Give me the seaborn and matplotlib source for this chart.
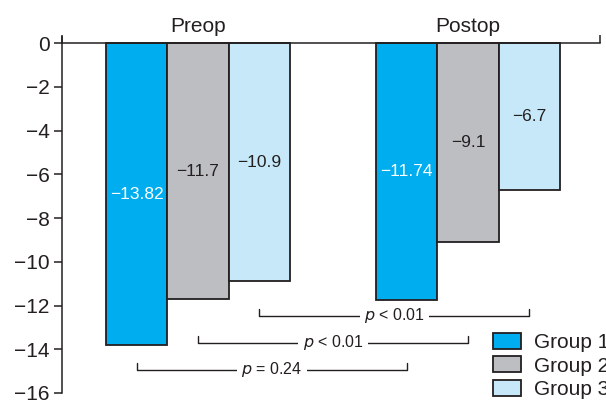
import pandas as pd
import seaborn as sns
import matplotlib.pyplot as plt

# Datos
momentos = ["Preop", "Postop"]
grupos = ["Group 1", "Group 2", "Group 3"]
valores_preop = [-13.82, -11.7, -10.9]
valores_postop = [-11.74, -9.1, -6.7]
etiquetas_p = ["p = 0.24", "p < 0.01", "p < 0.01"]
colores = ["#00AEEF", "#BDBEC2", "#C7E8F8"]

df = pd.DataFrame({
    "Momento": [m for m in momentos for _ in grupos],
    "Grupo": grupos * 2,
    "Valor": valores_preop + valores_postop,
})

sns.set_style("white")
plt.rcParams["font.family"] = ["Liberation Sans", "DejaVu Sans"]
plt.rcParams["axes.unicode_minus"] = True

fig = plt.figure(figsize=(6.06, 4.01), dpi=100)
ax = fig.add_axes([62 / 606, 8 / 401, 538 / 606, 356.5 / 401])

sns.barplot(data=df, x="Momento", y="Valor", hue="Grupo", order=momentos,
            hue_order=grupos, palette=colores, width=0.68, gap=0,
            edgecolor="#231F20", linewidth=1.3, saturation=1, ax=ax)

ax.set_xlim(-0.504, 1.489)
ax.set_ylim(-16, 0.3)
ax.set_yticks(range(-16, 1, 2))
ax.set_ylabel("")
ax.set_xlabel("")

# Ejes
for s in ["right", "bottom"]:
    ax.spines[s].set_visible(False)
ax.spines["top"].set_position(("data", 0))
ax.spines["left"].set_color("#231F20")
ax.spines["top"].set_color("#231F20")
ax.spines["left"].set_linewidth(1.1)
ax.spines["top"].set_linewidth(1.1)
ax.xaxis.set_ticks_position("top")
ax.set_xticks([-0.504, 1.489])
ax.set_xticklabels(["", ""])
ax.set_xticks([0, 1], minor=True)
ax.set_xticklabels(momentos, minor=True, fontsize=15, color="#231F20")
ax.tick_params(axis="x", which="major", direction="out", length=6, width=1.1, color="#231F20")
ax.tick_params(axis="x", which="minor", length=0, pad=5)
ax.tick_params(axis="y", direction="out", length=6, width=1.1, color="#231F20",
               labelsize=15, labelcolor="#231F20", pad=3, left=True)

# Etiquetas de valor
for i, cont in enumerate(ax.containers):
    color = "white" if i == 0 else "#231F20"
    ax.bar_label(cont, labels=[f"\u2212{abs(v):g}" for v in cont.datavalues],
                 label_type="center", fontsize=12.5, color=color)

# Corchetes de significación
centros = [[b.get_x() + b.get_width() / 2 for b in cont] for cont in ax.containers]
niveles = [-14.93, -13.7, -12.47]
for i, (y, txt) in enumerate(zip(niveles, etiquetas_p)):
    x0, x1 = centros[i][0], centros[i][1]
    ax.plot([x0, x0, x1, x1], [y + 0.3, y, y, y + 0.3], color="#231F20", lw=1.0)
    partes = txt.split(" ", 1)
    ax.text((x0 + x1) / 2, y, f"$p$ {partes[1]}", ha="center", va="center",
            fontsize=11.5, color="#231F20",
            bbox=dict(facecolor="white", edgecolor="none", pad=3))

# Leyenda
ax.legend(loc="upper left", bbox_to_anchor=(493 / 606, (401 - 333) / 401),
          bbox_transform=fig.transFigure, frameon=False, fontsize=15,
          handlelength=1.35, handleheight=0.8, labelspacing=0.2,
          handletextpad=0.6, borderpad=0, borderaxespad=0)
for t in ax.get_legend().get_texts():
    t.set_color("#231F20")

fig.savefig("out.png", dpi=100)
